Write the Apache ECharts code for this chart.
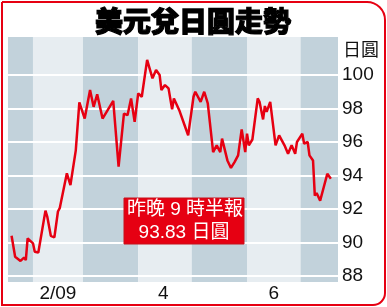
<!DOCTYPE html>
<html><head><meta charset="utf-8">
<script src="https://cdn.jsdelivr.net/npm/echarts@6/dist/echarts.min.js"></script>
<style>html,body{margin:0;padding:0;background:#fff}#c{width:387px;height:307px}</style>
</head><body><div id="c"></div>
<script>
var title = '美元兌日圓走勢';
var unitLabel = '日圓';
var noteLines = ['昨晚 9 時半報', '93.83 日圓'];
var dates = ['2009-01-20','2009-01-22','2009-01-25','2009-01-27','2009-01-28','2009-01-29','2009-02-01','2009-02-02','2009-02-04','2009-02-08',
'2009-02-09','2009-02-11','2009-02-13','2009-02-15','2009-02-16','2009-02-20','2009-02-22','2009-02-25','2009-02-27','2009-03-02',
'2009-03-05','2009-03-07','2009-03-09','2009-03-12','2009-03-18','2009-03-21','2009-03-24','2009-03-26','2009-03-28','2009-03-30',
'2009-04-01','2009-04-03','2009-04-06','2009-04-09','2009-04-11','2009-04-13','2009-04-14','2009-04-16','2009-04-18','2009-04-20',
'2009-04-21','2009-04-24','2009-04-27','2009-04-29','2009-05-02','2009-05-03','2009-05-06','2009-05-08','2009-05-10','2009-05-13',
'2009-05-15','2009-05-17','2009-05-18','2009-05-19','2009-05-21','2009-05-23','2009-05-25','2009-05-27','2009-05-29','2009-05-31',
'2009-06-01','2009-06-02','2009-06-04','2009-06-07','2009-06-08','2009-06-10','2009-06-11','2009-06-12','2009-06-14','2009-06-17',
'2009-06-19','2009-06-22','2009-06-24','2009-06-26','2009-06-28','2009-06-29','2009-07-02','2009-07-03','2009-07-05','2009-07-06',
'2009-07-08','2009-07-09','2009-07-10','2009-07-12','2009-07-14','2009-07-16','2009-07-18'];
var rates = [90.4,89.15,88.9,89.1,88.95,90.25,89.95,89.45,89.4,91.9,
91.55,90.4,90.3,91.85,92.05,94.13,93.43,95.5,98.37,97.4,
99.1,98.1,98.85,97.4,98.45,94.53,97.7,97.6,98.6,97.2,
98.9,98.7,100.9,99.8,100.3,100.0,99.1,99.4,99.2,97.95,
98.6,97.9,97.0,96.4,98.7,99.0,98.4,99.0,98.3,95.4,
95.8,95.4,96.2,96.1,94.9,94.45,94.8,95.2,96.75,95.4,
96.5,95.8,96.15,98.6,98.4,97.35,98.15,97.8,98.4,95.8,
96.4,95.8,95.3,95.8,95.3,96.0,96.5,95.9,96.0,95.2,
94.9,92.8,92.95,92.5,93.3,94.1,93.8];
var yTicks = [88,90,92,94,96,98,100];
var xTickDates = ['2009-02-15','2009-04-15','2009-06-16'];
var xTickLabels = ['2/09','4','6'];
var bandEdges = ['2009-01-18','2009-02-01','2009-03-01','2009-04-01','2009-05-01','2009-06-01','2009-07-01','2009-07-22'];

function dayIdx(s){var p=s.split('-');return (Date.UTC(+p[0],+p[1]-1,+p[2])-Date.UTC(2009,0,1))/864e5;}
var seriesData = dates.map(function(d,i){return [dayIdx(d), rates[i]];});
var xTicks = xTickDates.map(dayIdx);
var bands = [];
for (var i=0;i<bandEdges.length-1;i++){
  bands.push([{xAxis: dayIdx(bandEdges[i]), itemStyle:{color: i%2===0 ? '#c2d2db' : '#e7edf1'}}, {xAxis: dayIdx(bandEdges[i+1])}]);
}
var RED = '#e60012';
var chart = echarts.init(document.getElementById('c'), null, {renderer:'canvas'});
chart.setOption({
  animation:false,
  textStyle:{fontFamily:'Liberation Sans, Arial, sans-serif'},
  grid:{left:8,right:49,top:37,bottom:25},
  xAxis:{type:'value', min:dayIdx(bandEdges[0]), max:dayIdx(bandEdges[bandEdges.length-1]),
    axisLine:{show:false}, axisTick:{show:false}, splitLine:{show:false},
    axisLabel:{customValues:xTicks, color:'#111', fontSize:19, margin:2,
      formatter:function(v){var k=xTicks.indexOf(v);return k>=0?xTickLabels[k]:'';}}},
  yAxis:{type:'value', position:'right', min:87.64, max:102.27, z:3,
    axisLine:{show:false}, axisTick:{show:false, customValues:yTicks},
    axisLabel:{customValues:yTicks, color:'#111', fontSize:19, margin:4},
    splitLine:{show:true, lineStyle:{color:'#fff', width:2}}},
  series:[
    {type:'line', data:[], z:1, silent:true, markArea:{silent:true, data:bands}},
    {type:'line', data:seriesData, z:5, symbol:'none', lineStyle:{color:RED, width:2.5}}
  ],
  graphic:[
    {type:'rect', z:100, shape:{x:2,y:2,width:383,height:303,r:[0,18,12,0]}, style:{fill:null, stroke:RED, lineWidth:2}},
    {type:'text', z:100, x:193, y:21, style:{text:title, fill:'#000', stroke:'#000', lineWidth:1.2, font:'900 28px "Noto Sans CJK TC"', textAlign:'center', textVerticalAlign:'middle'}},
    {type:'text', z:100, x:343, y:49.5, style:{text:unitLabel, fill:'#111', font:'18px "Noto Sans CJK TC"', textAlign:'left', textVerticalAlign:'middle'}},
    {type:'rect', z:100, shape:{x:124,y:198,width:120,height:46}, style:{fill:RED, stroke:'#c8101a', lineWidth:1}},
    {type:'text', z:101, x:185, y:210, style:{text:noteLines[0], fill:'#fff', font:'19px "Liberation Sans", "Noto Sans CJK TC"', textAlign:'center', textVerticalAlign:'middle'}},
    {type:'text', z:101, x:184, y:233, style:{text:noteLines[1], fill:'#fff', font:'19px "Liberation Sans", "Noto Sans CJK TC"', textAlign:'center', textVerticalAlign:'middle'}}
  ]
});
</script></body></html>
